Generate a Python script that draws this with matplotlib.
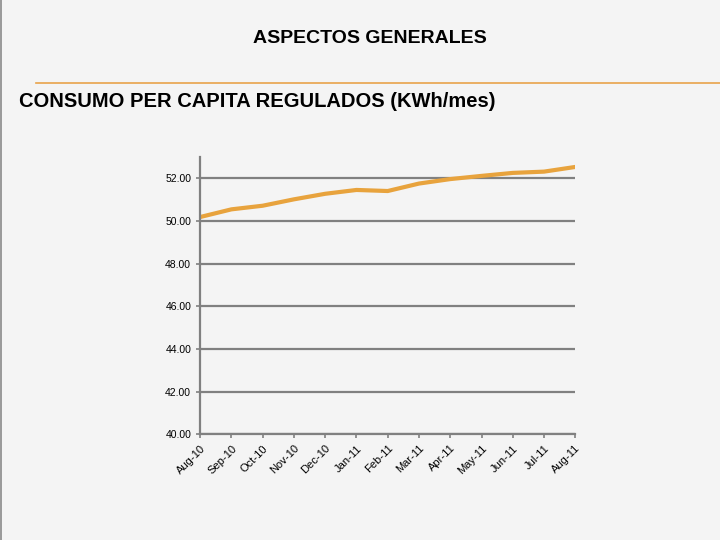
import matplotlib.pyplot as plt
import numpy as np

meses = ["Aug-10", "Sep-10", "Oct-10", "Nov-10", "Dec-10", "Jan-11", "Feb-11",
         "Mar-11", "Apr-11", "May-11", "Jun-11", "Jul-11", "Aug-11"]
consumo = [50.19, 50.55, 50.72, 51.02, 51.28, 51.46, 51.41,
           51.76, 51.97, 52.12, 52.26, 52.32, 52.54]
yticks = [40, 42, 44, 46, 48, 50, 52]

bg = "#f4f4f4"
fig = plt.figure(figsize=(7.2, 5.4), dpi=100, facecolor=bg)

# borde izquierdo de la diapositiva
fig.add_artist(plt.Line2D([0.001, 0.001], [0, 1], color="#8a8a8a",
                          linewidth=1.2))

fig.text(0.514, 0.929, "ASPECTOS GENERALES", ha="center", va="center",
         fontsize=14, fontweight="bold", fontfamily="Liberation Sans")
fig.add_artist(plt.Line2D([0.05, 1.0], [0.846, 0.846], color="#e8a34a",
                          linewidth=1.2))
fig.text(0.027, 0.812, "CONSUMO PER CAPITA REGULADOS (KWh/mes)", ha="left",
         va="center", fontsize=14.5, fontweight="bold",
         fontfamily="Liberation Sans")

ax = fig.add_axes([0.278, 0.196, 0.521, 0.513])
ax.set_facecolor(bg)
x = np.arange(len(meses))
ax.plot(x, consumo, color="#e8a33d", linewidth=3, solid_capstyle="round")

ax.set_xlim(0, len(meses) - 1)
ax.set_ylim(40, 53)
ax.set_yticks(yticks)
ax.set_yticklabels([f"{v:.2f}" for v in yticks], fontsize=7.5,
                   fontfamily="Liberation Sans")
ax.set_xticks(x)
ax.set_xticklabels(meses, rotation=45, ha="right", rotation_mode="anchor",
                   fontsize=8, fontfamily="Liberation Sans")
ax.grid(axis="y", color="#808080", linewidth=1.6)
ax.set_axisbelow(True)
for s in ["top", "right"]:
    ax.spines[s].set_visible(False)
for s in ["left", "bottom"]:
    ax.spines[s].set_color("#808080")
    ax.spines[s].set_linewidth(1.6)
ax.tick_params(axis="both", color="#808080", length=3, width=1.2)

fig.savefig("out.png", dpi=100, facecolor=bg)
